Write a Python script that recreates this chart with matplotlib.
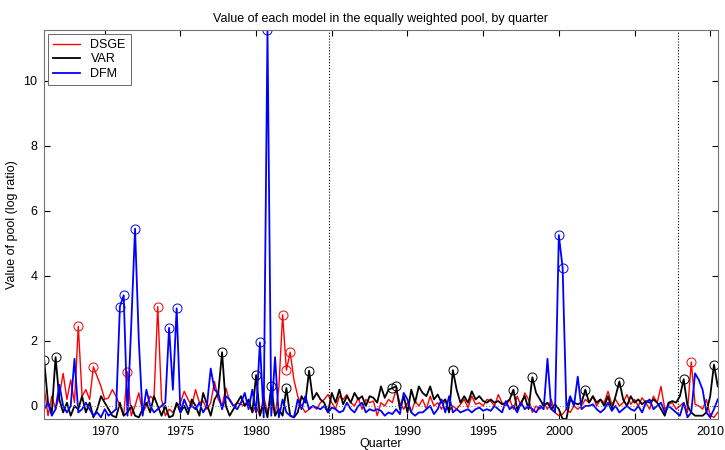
import numpy as np
import matplotlib
matplotlib.use("Agg")
import matplotlib.pyplot as plt

plt.rcParams['font.family'] = ['Liberation Sans', 'DejaVu Sans']

# quarterly values, 1966Q1 .. 2010Q3 (one row per year)
dsge = [
    0.55, -0.3, 0.3, -0.1,
    0.3, 1.0, 0.2, 0.8,
    0.1, 2.45, 0.3, 0.5,
    0.2, 1.2, 0.9, 0.6,
    0.2, 0.25, 0.5, 0.3,
    0.0, -0.3, 1.05, -0.3,
    0.0, 0.4, -0.2, 0.0,
    0.3, 0.2, 3.05, 0.2,
    -0.3, -0.1, -0.2, 0.0,
    0.1, 0.45, 0.2, 0.0,
    0.5, 0.1, 0.15, -0.1,
    0.1, 0.75, 0.2, 0.0,
    0.55, 0.15, 0.0, 0.1,
    0.05, 0.0, 0.1, -0.2,
    0.0, -0.3, 0.3, -0.2,
    0.2, -0.3, 0.55, 2.8,
    1.1, 1.65, 0.8, 0.3,
    0.0, -0.2, -0.1, 0.0,
    -0.1, 0.1, 0.2, 0.35,
    0.1, -0.1, 0.3, 0.2,
    0.35, 0.1, 0.0, 0.25,
    -0.1, 0.2, 0.1, 0.15,
    -0.3, 0.1, 0.0, 0.2,
    0.1, 0.5, 0.1, -0.1,
    0.1, -0.2, 0.15, 0.0,
    0.2, -0.1, 0.3, 0.0,
    0.1, -0.1, 0.2, -0.15,
    0.0, -0.1, 0.05, 0.2,
    -0.05, 0.3, 0.05, 0.1,
    0.0, 0.2, 0.15, 0.0,
    0.35, 0.1, 0.0, 0.2,
    -0.1, 0.3, 0.0, 0.4,
    0.2, -0.2, 0.0, -0.1,
    0.1, -0.1, 0.2, -0.2,
    -0.3, -0.25, -0.1, -0.2,
    0.0, -0.1, 0.0, 0.2,
    0.1, 0.3, 0.0, 0.2,
    0.1, 0.45, 0.05, 0.2,
    0.0, 0.1, 0.35, 0.05,
    0.2, 0.0, 0.25, 0.1,
    -0.1, 0.3, 0.1, 0.6,
    -0.1, 0.05, 0.1, -0.1,
    0.0, 0.1, -0.2, 1.35,
    0.05, 0.0, -0.1, 0.2,
    -0.3, -0.35, -0.2,
]

var = [
    1.4, 0.1, -0.2, 1.5,
    0.2, -0.2, 0.1, -0.3,
    0.0, -0.1, 0.3, -0.2,
    0.1, -0.35, -0.1, 0.3,
    0.1, -0.1, -0.3, -0.35,
    0.1, -0.3, -0.2, 0.0,
    -0.3, -0.35, -0.1, 0.1,
    -0.2, 0.3, 0.0, -0.3,
    0.0, -0.35, -0.3, 0.1,
    -0.2, 0.0, -0.25, 0.2,
    0.0, -0.3, 0.4, 0.05,
    -0.3, 0.2, 0.4, 1.65,
    0.0, -0.3, -0.1, 0.1,
    0.3, 0.0, 0.2, -0.2,
    0.95, -0.3, 0.1, -0.35,
    0.6, -0.3, -0.1, -0.3,
    0.55, -0.3, -0.35, -0.2,
    0.3, 0.1, 1.08, 0.2,
    0.4, 0.2, 0.1, -0.2,
    0.4, 0.1, 0.5, 0.05,
    0.3, 0.1, 0.4, 0.2,
    0.3, 0.0, 0.3, 0.25,
    0.1, 0.6, 0.25, 0.5,
    0.55, 0.6, -0.1, 0.3,
    -0.2, 0.5, 0.1, 0.6,
    0.4, 0.3, 0.6, 0.2,
    0.35, 0.1, 0.2, -0.2,
    1.1, 0.5, 0.1, 0.3,
    0.1, 0.45, 0.2, 0.3,
    0.15, 0.1, 0.2, 0.1,
    0.15, 0.05, 0.1, 0.2,
    0.5, -0.1, 0.1, 0.3,
    -0.1, 0.88, 0.4, 0.2,
    0.0, 0.1, -0.1, 0.05,
    -0.1, -0.4, -0.4, 0.2,
    0.1, 0.05, 0.1, 0.5,
    0.1, 0.3, 0.1, 0.2,
    0.0, 0.3, -0.1, 0.3,
    0.75, 0.2, 0.0, 0.3,
    0.1, 0.2, 0.05, 0.15,
    0.1, 0.2, 0.1, -0.1,
    -0.3, 0.1, 0.15, 0.1,
    0.3, 0.82, 0.0, -0.2,
    -0.3, -0.3, -0.3, -0.2,
    0.3, 1.27, 0.6,
]

dfm = [
    -0.1, 0.1, -0.3, -0.1,
    0.65, 0.0, -0.2, 0.0,
    1.45, -0.2, -0.1, 0.1,
    -0.1, -0.3, -0.2, -0.35,
    -0.1, -0.3, -0.2, -0.1,
    3.05, 3.4, -0.3, 2.5,
    5.45, 2.0, -0.3, 0.5,
    0.0, -0.2, -0.1, 0.0,
    0.1, 2.4, 0.5, 3.0,
    -0.2, 0.2, -0.1, 0.0,
    -0.1, 0.1, -0.2, 0.0,
    1.15, 0.5, 0.4, -0.1,
    0.3, 0.2, 0.0, -0.1,
    0.1, 0.4, -0.1, 0.5,
    -0.2, 1.95, -0.35, 11.55,
    -0.3, 1.5, -0.35, 0.2,
    -0.2, -0.3, -0.35, 0.2,
    -0.1, 0.3, -0.1, 0.0,
    -0.05, -0.1, 0.0, -0.2,
    -0.05, -0.1, -0.2, -0.15,
    0.1, -0.1, -0.2, 0.0,
    0.1, -0.2, -0.1, -0.15,
    -0.1, -0.15, -0.3, -0.2,
    -0.25, -0.1, -0.25, 0.4,
    0.2, -0.2, -0.3, -0.2,
    -0.2, -0.1, 0.0, -0.25,
    -0.1, 0.2, -0.2, 0.3,
    -0.2, -0.1, -0.2, -0.15,
    -0.1, -0.2, -0.1, -0.05,
    -0.15, -0.1, -0.15, 0.0,
    -0.1, -0.2, 0.15, -0.1,
    0.0, -0.2, 0.1, -0.1,
    0.0, -0.1, -0.2, 0.0,
    -0.1, 1.45, -0.1, -0.2,
    5.25, 4.25, -0.1, 0.3,
    0.0, 0.9, -0.1, 0.0,
    0.0, 0.05, -0.1, -0.2,
    -0.1, 0.1, -0.15, 0.0,
    -0.2, -0.1, 0.0, -0.1,
    -0.15, 0.0, -0.2, 0.1,
    0.2, -0.1, 0.0, 0.1,
    -0.2, 0.0, -0.1, -0.2,
    -0.3, 0.1, -0.35, -0.2,
    1.0, 0.8, 0.5, -0.2,
    -0.35, -0.1, 0.2,
]

quarters = 1966 + np.arange(len(dsge)) / 4.0

# quarters that get a circle marker
dsge_marks = [1968.25, 1969.25, 1971.5, 1973.5, 1981.75, 1982.0, 1982.25, 2008.75]
var_marks = [1966.0, 1966.75, 1977.75, 1980.0, 1981.0, 1982.0, 1983.5, 1989.0,
             1989.25, 1993.0, 1997.0, 1998.25, 2001.75, 2004.0, 2008.25, 2010.25]
dfm_marks = [1971.0, 1971.25, 1972.0, 1974.25, 1974.75, 1980.25, 1980.75,
             2000.0, 2000.25]

breaks = [1984.8, 2007.85]

fig = plt.figure(figsize=(7.25, 4.5), dpi=100)
ax = fig.add_axes([0.061, 0.069, 0.929, 0.864])

series = [('DSGE', dsge, dsge_marks, 'red', 1.0),
          ('VAR', var, var_marks, 'black', 1.3),
          ('DFM', dfm, dfm_marks, 'blue', 1.3)]

for name, vals, marks, col, lw in series:
    vals = np.array(vals)
    ax.plot(quarters, vals, color=col, lw=lw, label=name)
    idx = [int(round((m - 1966) * 4)) for m in marks]
    ax.plot(quarters[idx], vals[idx], 'o', mfc='none', mec=col, ms=6.5, mew=0.7)

ax.axhline(0, color='gray', ls=':', lw=0.8)
for b in breaks:
    ax.axvline(b, color='black', ls=':', lw=0.8)

ax.set_xlim(1966, 2010.5)
ax.set_ylim(-0.4, 11.55)
ax.set_xticks(range(1970, 2011, 5))
ax.set_yticks(range(0, 11, 2))
ax.tick_params(direction='in', top=True, right=True, labelsize=9, length=4)
ax.tick_params(axis='x', pad=5)
ax.tick_params(axis='y', pad=5)
for s in ax.spines.values():
    s.set_color('0.45')

ax.set_title('Value of each model in the equally weighted pool, by quarter', fontsize=9)
ax.set_xlabel('Quarter', fontsize=9, labelpad=0)
ax.set_ylabel('Value of pool (log ratio)', fontsize=9)

leg = ax.legend(loc='upper left', fontsize=9, handlelength=2.2, borderaxespad=0.3,
                fancybox=False, framealpha=1, labelspacing=0.2)
leg.get_frame().set_edgecolor('0.4')
leg.get_frame().set_linewidth(0.7)

fig.savefig('out.png', dpi=100)
